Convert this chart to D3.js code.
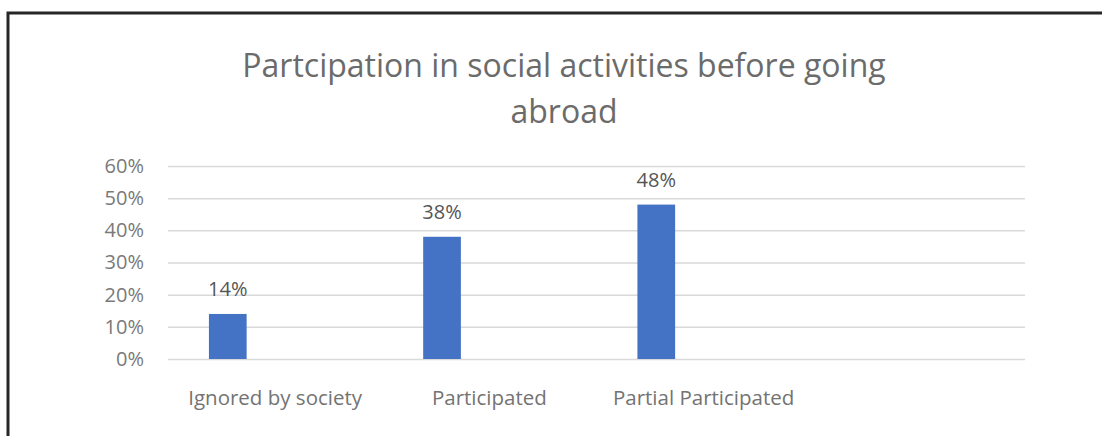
<!DOCTYPE html>
<html>
<head>
<meta charset="utf-8">
<script src="https://cdn.jsdelivr.net/npm/d3@7"></script>
<style>
  html, body { margin: 0; padding: 0; background: #fff; }
  svg { display: block; }
  text { font-family: "Open Sans", "Noto Sans", sans-serif; }
</style>
</head>
<body>
<svg id="chart" width="1102" height="436"></svg>
<script>
// Share of respondents by participation in social activities before going abroad
const categories = ["Ignored by society", "Participated", "Partial Participated"];
const values = [0.14, 0.38, 0.48];
const yTicks = [0, 0.1, 0.2, 0.3, 0.4, 0.5, 0.6];
const titleLines = ["Partcipation in social activities before going", "abroad"];

const svg = d3.select("#chart");
const W = 1102, H = 436;
const plot = { left: 168, right: 1025, top: 166, bottom: 359 };

// chart frame (top and left edges)
svg.append("path")
  .attr("d", `M8,${H + 5} L8,13 L${W + 5},13`)
  .attr("fill", "none")
  .attr("stroke", "#262626")
  .attr("stroke-width", 3);

// title
svg.append("g").selectAll("text")
  .data(titleLines)
  .join("text")
  .attr("x", 564)
  .attr("y", (d, i) => 77 + i * 46)
  .attr("text-anchor", "middle")
  .attr("font-size", 32)
  .attr("fill", "#6b6b6b")
  .text(d => d);

// scales: one empty trailing slot keeps the category spacing of the layout
const x = d3.scaleBand()
  .domain([...categories, ""])
  .range([plot.left, plot.right])
  .padding(0);

const y = d3.scaleLinear()
  .domain([0, 0.6])
  .range([plot.bottom, plot.top]);

const fmt = d3.format(".0%");

// horizontal gridlines + tick labels
const yAxis = d3.axisLeft(y)
  .tickValues(yTicks)
  .tickFormat(fmt)
  .tickSize(-(plot.right - plot.left))
  .tickPadding(24);

const gy = svg.append("g")
  .attr("transform", `translate(${plot.left},0)`)
  .call(yAxis);
gy.select(".domain").remove();
gy.selectAll(".tick line")
  .attr("stroke", "#d9d9d9")
  .attr("stroke-width", 1.5);
gy.selectAll(".tick text")
  .attr("font-size", 20)
  .attr("fill", "#7a7a7a")
  .attr("font-family", "'Open Sans', 'Noto Sans', sans-serif");

// bars
const bw = x.bandwidth();
const barX = c => x(c) + bw * 0.191;
const barW = bw * 0.176;

svg.append("g").selectAll("rect")
  .data(categories.map((c, i) => ({ c, v: values[i] })))
  .join("rect")
  .attr("x", d => barX(d.c))
  .attr("y", d => y(d.v))
  .attr("width", barW)
  .attr("height", d => y(0) - y(d.v))
  .attr("fill", "#4472c4");

// value labels
svg.append("g").selectAll("text")
  .data(categories.map((c, i) => ({ c, v: values[i] })))
  .join("text")
  .attr("x", d => barX(d.c) + barW / 2)
  .attr("y", d => y(d.v) - 18)
  .attr("text-anchor", "middle")
  .attr("font-size", 20)
  .attr("fill", "#555555")
  .text(d => fmt(d.v));

// category labels
svg.append("g").selectAll("text")
  .data(categories)
  .join("text")
  .attr("x", c => x(c) + bw / 2)
  .attr("y", 405)
  .attr("text-anchor", "middle")
  .attr("font-size", 20.5)
  .attr("fill", "#737373")
  .text(c => c);
</script>
</body>
</html>
